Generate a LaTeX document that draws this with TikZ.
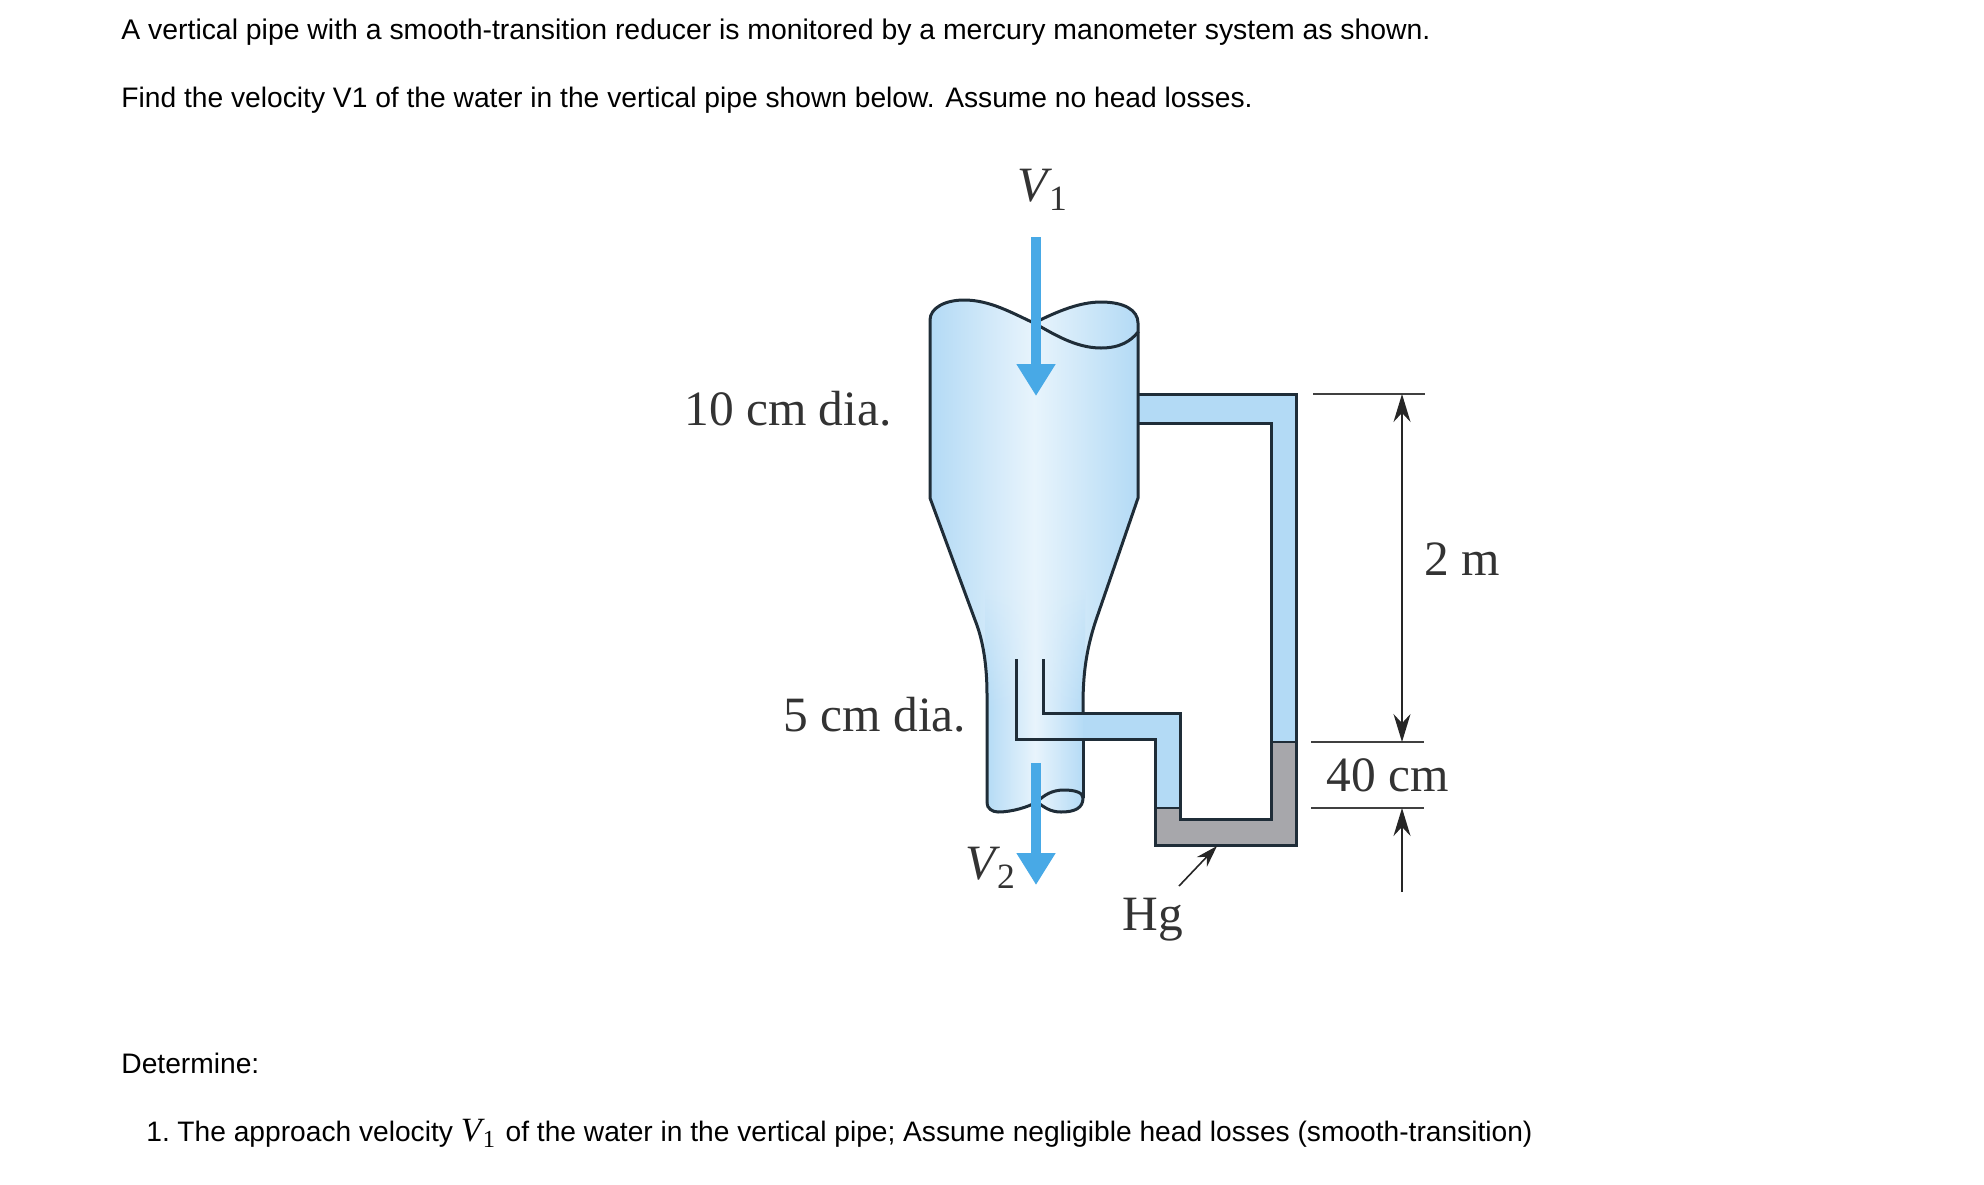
\documentclass[tikz,border=0pt]{standalone}
\usepackage{fontspec}
\usepackage{tikz}
\usetikzlibrary{arrows.meta,fadings}
\setmainfont{Liberation Sans}
\newfontfamily\figfont{Liberation Serif}
\newcommand{\velsym}[1]{{\figfont\textit{V}\kern-.06em\raisebox{-.42ex}{\fontsize{.72em}{1em}\selectfont #1}}}
\definecolor{wallcol}{HTML}{1F2D38}
\definecolor{waterin}{HTML}{B3DAF5}
\definecolor{waterlt}{HTML}{E8F4FC}
\definecolor{hgcol}{HTML}{A7A7AB}
\definecolor{flowcol}{HTML}{48A9E6}
\tikzfading[name=fadedown,top color=transparent!100,bottom color=transparent!0,middle color=transparent!0]
\tikzset{
  prose/.style={anchor=base west,inner sep=0pt,font=\fontsize{14.1pt}{16pt}\selectfont},
  figlabel/.style={inner sep=0pt,text=black!80,font=\figfont\fontsize{24.7pt}{28pt}\selectfont},
  wall/.style={line width=1.5pt,wallcol,line join=miter},
  flow/.style={line width=5pt,flowcol,-{Triangle[length=16pt,width=18.5pt]}},
  dimline/.style={line width=.8pt,black!75},
  dimarrow/.style={line width=.8pt,black!85,-{Stealth[length=14pt,width=8.5pt]}}
}
\def\bodypath{(930,320) .. controls (930,308) and (945,300) .. (964,300) .. controls (990,300) and (1012,313) .. (1034,323)
    .. controls (1052,333) and (1075,348) .. (1101,348) .. controls (1120,348) and (1131,341) .. (1138,332)
    -- (1138,498) -- (1096,620) .. controls (1086,650) and (1083,675) .. (1083,705) -- (1083,798)
    .. controls (1083,808) and (1075,812) .. (1061,812) .. controls (1050,812) and (1044,807) .. (1037,802)
    .. controls (1028,807) and (1012,812) .. (998,812) .. controls (992,812) and (987,808) .. (987,803)
    -- (987,695) .. controls (987,665) and (983,640) .. (975,620) -- (930,498) -- cycle}
\def\toplobe{(1034,323) .. controls (1058,311) and (1080,302) .. (1101,302) .. controls (1124,302) and (1138,310) .. (1138,323)
    -- (1138,332) .. controls (1131,341) and (1120,348) .. (1101,348) .. controls (1075,348) and (1052,333) .. (1034,323) -- cycle}
\def\lowlobe{(1037,802) .. controls (1044,795) and (1052,790) .. (1064,790) .. controls (1076,790) and (1083,793) .. (1083,798)
    .. controls (1083,808) and (1075,812) .. (1061,812) .. controls (1050,812) and (1044,807) .. (1037,802) -- cycle}
\begin{document}
\begin{tikzpicture}[x=.5pt,y=-.5pt]
  \useasboundingbox (0,0) rectangle (1984,1184);
  \node[prose,font=\fontsize{14.19pt}{16pt}\selectfont] (line1) at (121,39) {A vertical pipe with a smooth-transition reducer is monitored by a mercury manometer system as shown.};
  \node[prose] (line2) at (121,107) {Find the velocity V1 of the water in the vertical pipe shown below. Assume no head losses.};
  \node[prose] (determine) at (121,1073) {Determine:};
  \node[prose,font=\fontsize{14.08pt}{16pt}\selectfont] (item) at (146,1141) {1.\kern-.1em{} The approach velocity {\fontsize{17pt}{18pt}\selectfont\velsym{1}}\kern.1em{} of the water in the vertical pipe; Assume negligible head losses (smooth-transition)};

  \shade[left color=waterin,right color=waterin,middle color=waterlt] \bodypath;
  \begin{scope}
    \clip \bodypath;
    \shade[left color=waterin,right color=waterin,middle color=waterlt,path fading=fadedown] (985,590) rectangle (1085,830);
  \end{scope}
  \shade[left color=waterlt,right color=waterin] \toplobe;
  \shade[left color=waterlt,right color=waterin] \lowlobe;

  \fill[waterin] (1138,394) -- (1296,394) -- (1296,742) -- (1271,742) -- (1271,423) -- (1138,423) -- cycle;
  \fill[waterin] (1083,713) -- (1180,713) -- (1180,808) -- (1155,808) -- (1155,739) -- (1083,739) -- cycle;
  \fill[hgcol] (1155,808) -- (1180,808) -- (1180,819) -- (1271,819) -- (1271,742) -- (1296,742) -- (1296,845) -- (1155,845) -- cycle;

  \draw[wall] (1138,332) -- (1138,498) -- (1096,620) .. controls (1086,650) and (1083,675) .. (1083,705) -- (1083,713);
  \draw[wall] (1083,739) -- (1083,798);
  \draw[wall] (987,803) -- (987,695) .. controls (987,665) and (983,640) .. (975,620) -- (930,498) -- (930,320);
  \draw[wall] (930,320) .. controls (930,308) and (945,300) .. (964,300) .. controls (990,300) and (1012,313) .. (1034,323);
  \draw[wall] \toplobe;
  \draw[wall] (987,803) .. controls (987,808) and (992,812) .. (998,812) .. controls (1012,812) and (1028,807) .. (1037,802);
  \draw[wall] \lowlobe;

  \draw[wall] (1138,394) -- (1296,394) -- (1296,845) -- (1155,845) -- (1155,739) -- (1016,739) -- (1016,659);
  \draw[wall] (1138,423) -- (1271,423) -- (1271,819) -- (1180,819) -- (1180,713) -- (1043,713) -- (1043,659);
  \draw[wall,line width=1pt] (1271,742) -- (1296,742);
  \draw[wall,line width=1pt] (1155,808) -- (1180,808);

  \coordinate (inTail) at (1036,237);
  \coordinate (inTip) at (1036,396);
  \coordinate (outTail) at (1036,763);
  \coordinate (outTip) at (1036,885);
  \draw[flow] (inTail) -- (inTip);
  \draw[flow] (outTail) -- (outTip);

  \coordinate (topL) at (1313,394);
  \coordinate (topR) at (1425,394);
  \coordinate (midL) at (1311,742);
  \coordinate (midR) at (1424,742);
  \coordinate (lowL) at (1311,808);
  \coordinate (lowR) at (1424,808);
  \coordinate (topTick) at (1402,394);
  \coordinate (midTick) at (1402,742);
  \coordinate (lowTick) at (1402,808);
  \coordinate (lowTail) at (1402,892);
  \draw[dimline] (topL) -- (topR);
  \draw[dimline] (midL) -- (midR);
  \draw[dimline] (lowL) -- (lowR);
  \draw[dimarrow,{Stealth[length=14pt,width=8.5pt]}-{Stealth[length=14pt,width=8.5pt]}] (topTick) -- (midTick);
  \draw[dimarrow] (lowTail) -- (lowTick);

  \node[figlabel] (vone) at (1042,190) {\velsym{1}};
  \node[figlabel] (vtwo) at (990,868) {\velsym{2}};
  \node[figlabel] (bigdia) at (788,409) {10 cm dia.};
  \node[figlabel] (smalldia) at (875,715) {5 cm dia.};
  \node[figlabel] (twom) at (1462,559) {2 m};
  \node[figlabel] (forty) at (1388,775) {40 cm};
  \node[figlabel] (hg) at (1153,920) {Hg};
  \coordinate (hgTip) at (1217,846);
  \draw[line width=.8pt,black!85,-{Stealth[length=11pt,width=7pt]}] (1179,886) -- (hgTip);
\end{tikzpicture}
\end{document}
